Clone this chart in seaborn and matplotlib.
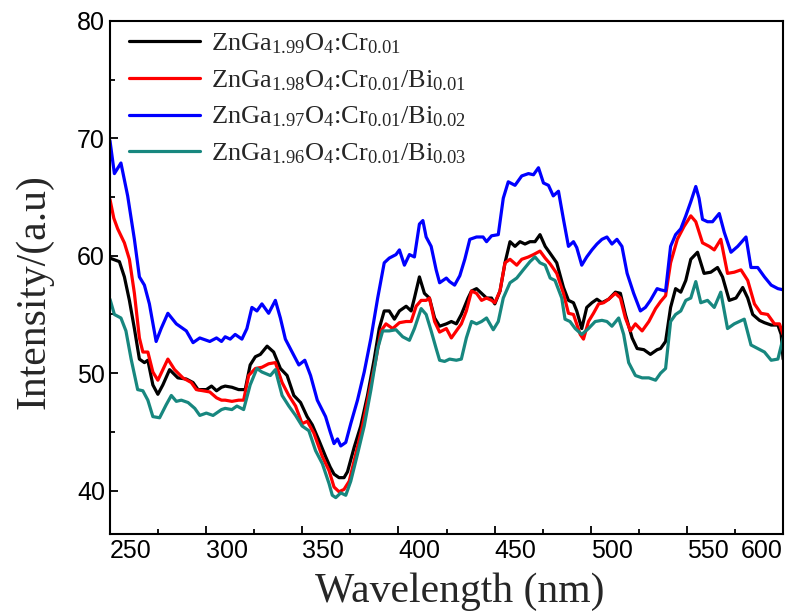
import numpy as np
import pandas as pd
import matplotlib
matplotlib.use("Agg")
import matplotlib.pyplot as plt
from matplotlib.ticker import MultipleLocator
import seaborn as sns

# emission spectra, values
wl_black = [250.0, 254.9, 257.5, 260.1, 262.7, 265.3, 267.9, 269.7, 272.3, 274.9, 277.5, 281.0, 285.3, 289.7,
            293.2, 295.8, 300.1, 302.8, 305.4, 308.0, 309.9, 313.4, 316.9, 320.3, 322.9, 325.6, 328.2, 331.7,
            335.1, 338.6, 342.1, 345.6, 349.1, 352.5, 355.2, 358.6, 362.1, 364.5, 366.5, 369.1, 371.7, 373.5,
            377.0, 380.4, 383.9, 387.4, 390.0, 392.6, 395.2, 397.9, 400.5, 404.0, 406.6, 408.3, 410.9, 413.5,
            416.1, 418.8, 421.4, 424.9, 427.5, 430.1, 432.7, 436.2, 438.0, 440.6, 443.2, 445.8, 448.4, 450.1,
            452.8, 455.4, 458.0, 460.6, 463.2, 465.8, 468.4, 471.0, 473.6, 476.3, 478.9, 482.3, 485.8, 488.4,
            491.0, 492.7, 495.3, 497.9, 500.6, 503.2, 505.8, 509.3, 512.8, 515.4, 518.0, 521.5, 524.1, 527.6,
            531.0, 534.5, 536.3, 538.9, 541.5, 544.1, 546.8, 549.4, 552.0, 555.5, 558.9, 562.4, 565.9, 568.5,
            572.0, 575.5, 579.0, 581.6, 584.2, 587.7, 590.3, 593.8, 597.3, 599.0, 600.0]
int_black = [59.8, 59.5, 58.2, 56.2, 53.8, 51.2, 50.9, 51.1, 49.0, 48.2, 49.0, 50.3, 49.6, 49.5,
             49.2, 48.6, 48.6, 48.9, 48.5, 48.8, 48.9, 48.8, 48.6, 48.6, 50.7, 51.4, 51.6, 52.3,
             51.8, 50.4, 49.8, 48.1, 47.5, 46.3, 45.6, 44.3, 42.9, 42.0, 41.4, 41.1, 41.1, 41.6,
             43.7, 45.5, 48.1, 51.2, 53.8, 55.3, 55.3, 54.6, 55.3, 55.7, 55.3, 56.4, 58.2, 56.8,
             56.4, 54.7, 54.0, 54.2, 54.4, 54.2, 55.0, 56.4, 57.0, 57.2, 56.8, 56.4, 56.4, 55.9,
             57.0, 59.4, 61.2, 60.8, 61.2, 61.0, 61.2, 61.2, 61.8, 60.8, 60.2, 59.4, 57.3, 56.2,
             56.0, 55.3, 53.8, 55.6, 56.0, 56.3, 56.0, 56.3, 56.9, 56.8, 55.0, 53.0, 52.1, 52.0,
             51.6, 52.0, 52.1, 52.7, 55.6, 57.2, 56.9, 57.9, 59.7, 60.3, 58.5, 58.6, 59.0, 58.2,
             56.2, 56.4, 57.3, 56.4, 55.0, 54.5, 54.3, 54.1, 54.1, 53.3, 51.2]

wl_red = [250.0, 252.0, 254.0, 257.5, 260.1, 262.7, 265.3, 267.1, 269.7, 272.3, 274.9, 277.5, 280.1, 283.6,
          287.9, 292.3, 294.9, 298.4, 301.9, 305.4, 308.0, 309.9, 313.4, 316.9, 319.5, 322.1, 325.6, 329.0,
          332.5, 336.0, 339.5, 343.0, 346.5, 349.9, 352.6, 356.0, 360.4, 363.9, 366.5, 369.1, 371.7, 374.4,
          377.8, 381.3, 384.8, 388.3, 390.9, 393.5, 397.0, 400.5, 404.0, 406.6, 409.2, 411.8, 414.4, 416.1,
          418.8, 421.4, 424.9, 427.5, 430.1, 432.7, 435.3, 438.0, 440.6, 443.2, 445.8, 448.4, 450.1, 452.8,
          455.4, 458.0, 461.5, 464.1, 467.6, 470.2, 473.6, 476.3, 478.9, 482.3, 485.8, 488.4, 491.0, 494.5,
          496.2, 498.8, 501.4, 504.1, 506.7, 509.3, 512.8, 515.4, 518.0, 520.6, 523.2, 526.7, 530.2, 533.7,
          536.3, 538.9, 541.5, 545.0, 548.5, 552.0, 554.6, 558.1, 561.6, 564.2, 567.6, 571.1, 574.6, 578.1,
          581.6, 585.1, 588.5, 592.0, 595.5, 598.1, 600.0]
int_red = [64.8, 63.2, 62.3, 61.1, 59.7, 56.8, 53.0, 51.8, 51.8, 50.1, 49.4, 50.3, 51.2, 50.3,
           49.6, 49.2, 48.6, 48.5, 48.4, 47.9, 47.7, 47.7, 47.6, 47.7, 47.7, 49.8, 50.4, 50.5,
           50.8, 50.9, 49.2, 48.1, 47.2, 45.7, 45.9, 44.9, 42.9, 41.7, 40.3, 39.9, 40.1, 40.8,
           43.1, 45.5, 48.4, 51.2, 53.6, 54.2, 53.8, 54.3, 54.4, 54.4, 55.7, 56.2, 56.2, 56.4,
           54.4, 53.5, 53.8, 53.0, 53.6, 54.2, 55.3, 57.0, 56.8, 56.2, 56.4, 56.2, 56.0, 57.0,
           59.4, 59.7, 59.2, 59.7, 59.9, 60.1, 60.4, 59.8, 59.3, 58.5, 56.8, 55.1, 55.0, 53.3,
           52.9, 54.4, 55.1, 55.9, 56.0, 56.3, 56.8, 56.4, 54.7, 53.6, 54.2, 53.6, 54.4, 55.5,
           56.1, 56.6, 59.4, 61.4, 62.5, 63.4, 62.9, 61.1, 60.8, 60.5, 61.4, 58.5, 58.6, 58.8,
           57.9, 55.9, 55.1, 55.0, 54.2, 54.2, 53.3]

wl_blue = [250.0, 252.3, 255.7, 259.2, 262.7, 265.3, 267.9, 270.5, 274.0, 276.6, 280.1, 284.5, 289.7, 293.2,
           296.7, 301.9, 305.4, 308.0, 309.9, 312.5, 315.1, 318.6, 321.2, 323.8, 326.4, 329.0, 332.5, 336.0,
           338.6, 341.2, 344.7, 348.2, 351.3, 354.3, 357.8, 362.1, 364.5, 366.5, 368.3, 370.0, 372.6, 375.2,
           378.7, 382.2, 385.7, 389.2, 392.6, 395.2, 398.7, 400.5, 403.1, 405.7, 408.3, 410.9, 412.7, 414.4,
           417.0, 419.6, 421.4, 424.9, 426.6, 429.2, 431.9, 434.5, 437.1, 440.6, 444.0, 445.8, 448.4, 451.9,
           454.5, 457.1, 460.6, 464.1, 467.6, 470.2, 472.8, 475.4, 478.0, 480.5, 483.2, 485.8, 488.4, 491.0,
           492.7, 495.3, 497.9, 500.6, 503.2, 505.8, 508.4, 511.0, 513.6, 516.2, 518.9, 522.3, 525.8, 528.4,
           531.0, 534.5, 536.3, 538.9, 541.5, 544.1, 546.8, 549.4, 552.0, 554.6, 556.3, 558.1, 560.7, 563.3,
           566.8, 569.4, 572.9, 576.4, 580.7, 583.3, 586.8, 590.3, 593.8, 597.3, 600.0]
int_blue = [69.8, 67.0, 67.9, 65.1, 61.4, 58.2, 57.5, 55.9, 52.7, 53.8, 55.1, 54.2, 53.6, 52.6,
            53.0, 52.7, 53.0, 52.7, 53.1, 52.9, 53.3, 52.9, 53.8, 55.6, 55.3, 55.9, 55.1, 56.2,
            54.7, 52.9, 51.8, 50.7, 51.1, 49.8, 47.7, 46.3, 45.0, 44.0, 44.4, 43.8, 44.1, 45.7,
            47.7, 50.1, 53.0, 56.4, 59.4, 59.8, 60.1, 60.5, 59.2, 60.1, 59.9, 62.7, 63.0, 61.6,
            60.8, 58.8, 57.7, 58.1, 57.8, 57.5, 58.3, 59.7, 61.4, 61.6, 61.6, 61.2, 61.7, 61.8,
            64.9, 66.3, 66.0, 66.8, 67.0, 66.9, 67.5, 66.2, 66.0, 65.1, 65.5, 63.1, 60.8, 61.2,
            60.7, 59.2, 59.9, 60.5, 61.0, 61.4, 61.6, 61.0, 61.4, 60.8, 58.5, 56.8, 55.3, 55.6,
            56.2, 57.2, 57.1, 57.0, 60.8, 61.8, 62.3, 63.4, 64.6, 65.9, 64.9, 63.1, 62.9, 62.9,
            63.6, 62.0, 60.3, 60.8, 61.6, 59.0, 59.0, 58.2, 57.5, 57.2, 57.1]

wl_teal = [250.0, 252.3, 255.7, 258.3, 261.0, 264.4, 267.1, 269.7, 272.3, 275.8, 279.2, 281.9, 284.5, 287.1,
           290.6, 294.1, 296.7, 300.1, 303.6, 308.0, 309.9, 313.4, 316.0, 319.5, 322.9, 326.4, 329.0, 333.4,
           336.0, 339.5, 343.0, 346.5, 349.9, 353.4, 356.9, 360.4, 363.9, 365.6, 367.4, 370.0, 372.6, 375.2,
           378.7, 382.2, 385.7, 389.2, 391.8, 395.2, 398.7, 402.2, 405.7, 408.3, 411.8, 414.4, 417.0, 419.6,
           421.4, 424.0, 426.6, 430.1, 432.7, 435.3, 438.0, 440.6, 443.2, 445.8, 449.3, 451.9, 454.5, 458.0,
           461.5, 464.9, 468.4, 471.0, 473.6, 476.3, 478.9, 481.4, 484.9, 486.6, 489.2, 491.9, 495.3, 498.8,
           502.3, 505.8, 508.4, 511.0, 514.5, 517.1, 519.7, 523.2, 526.7, 530.2, 533.7, 536.3, 538.9, 541.5,
           544.1, 546.8, 549.4, 552.0, 554.6, 557.2, 560.7, 564.2, 567.6, 571.1, 574.6, 579.8, 583.3, 586.8,
           590.3, 593.8, 597.3, 600.0]
int_teal = [56.3, 55.0, 54.7, 53.6, 51.2, 48.6, 48.5, 47.7, 46.3, 46.2, 47.3, 48.1, 47.6, 47.7,
            47.5, 47.0, 46.4, 46.6, 46.4, 46.9, 47.0, 46.9, 47.2, 46.9, 49.0, 50.4, 50.1, 49.8,
            50.3, 48.1, 47.2, 46.4, 45.5, 45.1, 43.4, 42.3, 40.6, 39.6, 39.4, 39.8, 39.6, 40.8,
            43.1, 45.5, 48.6, 52.1, 53.6, 53.6, 53.7, 53.1, 52.8, 53.8, 55.5, 55.0, 53.6, 52.1,
            51.1, 51.0, 51.2, 51.1, 51.2, 53.0, 54.4, 54.2, 54.4, 54.7, 53.7, 54.4, 56.4, 57.7,
            58.1, 58.8, 59.5, 59.9, 59.4, 59.2, 58.1, 57.9, 56.4, 54.6, 54.4, 53.8, 53.3, 53.8,
            54.4, 54.5, 54.4, 54.0, 54.7, 53.3, 50.9, 49.8, 49.6, 49.6, 49.4, 50.0, 50.4, 54.4,
            55.0, 55.3, 56.2, 56.4, 57.8, 56.0, 56.2, 55.6, 56.9, 53.8, 54.2, 54.6, 52.4, 52.1,
            51.8, 51.1, 51.2, 53.0]

labels = [r'ZnGa$\mathregular{_{1.99}}$O$\mathregular{_4}$:Cr$\mathregular{_{0.01}}$',
          r'ZnGa$\mathregular{_{1.98}}$O$\mathregular{_4}$:Cr$\mathregular{_{0.01}}$/Bi$\mathregular{_{0.01}}$',
          r'ZnGa$\mathregular{_{1.97}}$O$\mathregular{_4}$:Cr$\mathregular{_{0.01}}$/Bi$\mathregular{_{0.02}}$',
          r'ZnGa$\mathregular{_{1.96}}$O$\mathregular{_4}$:Cr$\mathregular{_{0.01}}$/Bi$\mathregular{_{0.03}}$']
colors = ['#000000', '#ff0000', '#0000ff', '#17877f']
xticks = [250, 300, 350, 400, 450, 500, 550, 600]
xtick_labels = ['250', '300', '350', '400', '450', '500', '550', '600']

series = [(wl_black, int_black), (wl_red, int_red), (wl_blue, int_blue), (wl_teal, int_teal)]
frames = []
for lab, (wl, inten) in zip(labels, series):
    frames.append(pd.DataFrame({'wavelength': wl, 'intensity': inten, 'sample': lab}))
df = pd.concat(frames, ignore_index=True)

sns.set_style("ticks")
plt.rcParams['font.family'] = ['Liberation Serif', 'DejaVu Serif']
plt.rcParams['mathtext.fontset'] = 'custom'
plt.rcParams['mathtext.rm'] = 'Liberation Serif'

fig = plt.figure(figsize=(8.11, 6.15), dpi=100)
ax = fig.add_axes([0.1356, 0.1317, 0.830, 0.8342])

sns.lineplot(data=df, x='wavelength', y='intensity', hue='sample', hue_order=labels,
             palette=dict(zip(labels, colors)), estimator=None, linewidth=2.3, ax=ax)

ax.set_xlim(250, 600)
ax.set_ylim(36.3, 80)
ax.set_xticks(xticks)
ax.set_xticklabels(xtick_labels)
ax.xaxis.set_minor_locator(MultipleLocator(25))
ax.yaxis.set_major_locator(MultipleLocator(10))
ax.yaxis.set_minor_locator(MultipleLocator(5))
ax.tick_params(which='both', direction='in', top=False, right=False, width=1.3,
               labelsize=18, labelfontfamily='Liberation Sans', colors='black')
ax.tick_params(which='major', length=6)
ax.tick_params(which='minor', length=3.5)
# labels sit to the right of their ticks in the original, the last one flush with the frame
for lbl in ax.get_xticklabels():
    lbl.set_ha('left')
ax.get_xticklabels()[-1].set_ha('right')
for sp in ax.spines.values():
    sp.set_linewidth(1.5)
    sp.set_color('black')

ax.set_xlabel('Wavelength (nm)', fontsize=30, labelpad=7)
ax.set_ylabel('Intensity/(a.u)', fontsize=30, labelpad=17)
ax.xaxis.label.set_x(0.52)
ax.yaxis.label.set_y(0.472)

leg = ax.get_legend()
handles = leg.legend_handles
names = [t.get_text() for t in leg.get_texts()]
leg.remove()
ax.legend(handles, names, loc='upper left', bbox_to_anchor=(0.02, 0.99), frameon=False,
          fontsize=19, handlelength=2.7, handletextpad=0.4, labelspacing=0.46,
          borderaxespad=0.0, borderpad=0.2)

fig.savefig('out.png', dpi=100)
